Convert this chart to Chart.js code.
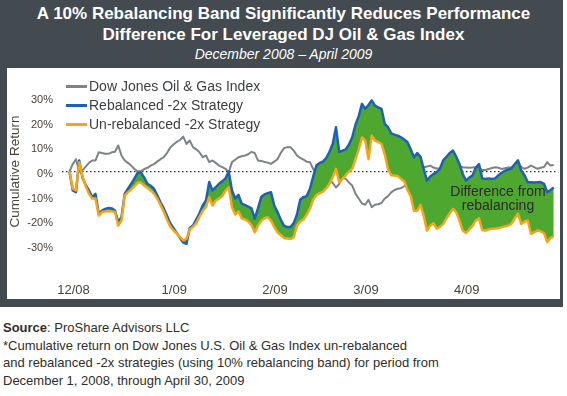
<!DOCTYPE html>
<html>
<head>
<meta charset="utf-8">
<script src="https://cdn.jsdelivr.net/npm/chart.js"></script>
<style>
  html, body { margin: 0; padding: 0; background: #fff; }
  body { width: 567px; height: 396px; position: relative; overflow: hidden; font-family: "Liberation Sans", Arial, sans-serif; }
  #frame { position: absolute; left: 0; top: 0; width: 563px; height: 307px; background: #434a50; }
  #title { position: absolute; left: 0; top: 3px; width: 567px; text-align: center; color: #fff; }
  #title .t1 { font-weight: bold; font-size: 17px; line-height: 21px; }
  #title .t2 { font-style: italic; font-size: 14px; line-height: 19px; }
  #box { position: absolute; left: 7px; top: 68px; width: 553px; height: 231px; background: #fff; }
  #legend { position: absolute; left: 66px; top: 77px; }
  .item { position: absolute; left: 0; height: 19px; white-space: nowrap; font-size: 14px; color: #3c3f42; line-height: 19px; }
  .item i { display: inline-block; width: 21px; height: 3px; vertical-align: middle; margin-right: 2px; position: relative; top: -1px; }
  #note { position: absolute; left: 440px; top: 184px; width: 116px; text-align: center; font-size: 14px; line-height: 14px; color: #2b2b2b; }
  #foot { position: absolute; left: 3px; top: 319px; font-size: 13px; line-height: 17.5px; color: #2e2e2e; }
</style>
</head>
<body>
<div id="frame"></div>
<div id="title">
  <div class="t1">A 10% Rebalancing Band Significantly Reduces Performance</div>
  <div class="t1">Difference For Leveraged DJ Oil &amp; Gas Index</div>
  <div class="t2">December 2008 – April 2009</div>
</div>
<div id="box"><canvas id="chart" width="553" height="231"></canvas></div>
<div id="legend"></div>
<div id="note">Difference from<br>rebalancing</div>
<div id="foot">
  <b>Source</b>: ProShare Advisors LLC<br>
  *Cumulative return on Dow Jones U.S. Oil &amp; Gas Index un-rebalanced<br>
  and rebalanced -2x strategies (using 10% rebalancing band) for period from<br>
  December 1, 2008, through April 30, 2009
</div>
<script>
// cumulative returns (%), one value per calendar day from 1 Dec 2008
const dowJones = [
  0, 3, 5, 0, 0.5, 2, 3.5, 4.5, 4.5, 7.8, 7.5, 7.2, 7.2, 7.8, 8, 10.6, 6.5, 4.5, 3.5, 2.4,
  1, 0, 0.2, 1, 1.5, 2.4, 3, 4, 5, 5.8, 7.5, 9.7, 11, 12, 12.8, 14.2, 11.2, 12.6, 9.9, 9,
  7.8, 5.8, 6.5, 3.8, 4.5, 3.5, 2.4, 1.8, 1.1, -0.3, 3.8, 4.8, 5.8, 6.2, 6.5, 7, 8, 7.5, 4.5, 4.3,
  3.9, 3.6, 3.1, 4, 5, 7.5, 9.5, 9.9, 9.9, 8.5, 6.5, 5.5, 4.8, 4, 3.8, 1, -0.5, -1, -0.8, -2.3,
  -3.5, -4.6, -6.5, -5, -2.5, -3, -4.5, -5.7, -9, -11, -13, -13.5, -11.5, -14.5, -13.5, -13.3, -12.8, -11, -10, -8.5,
  -7.5, -7, -6.8, -6, -5.7, -4, -3, -1.5, 0, 1.7, 2, 2.4, 1.6, 1.2, 1.3, 1.7, 1, 0.4, 1.5, 2.4,
  2.1, 1.7, 1.6, 1.5, 1.6, 1.7, 1.4, 0.6, 0.6, 1, 1.4, 1.7, 1.5, 1, 1.3, 1.6, 1.7, 2.8, 3.8, 1.8,
  1.1, 1.6, 2.4, 1.8, 1.1, 1.5, 1.8, 3.8, 2.4, 2.6
];
const rebalanced = [
  0, -7.7, -8.4, 4.5, -2.5, -5.5, -7.7, -10.4, -9.1, -17.2, -15.9, -15.2, -14.8, -15, -15.9, -20.6, -18.6, -9.1, -7, -5,
  -2.8, -0.5, -0.5, -2.5, -5, -5.8, -7, -9.7, -12.5, -15, -18, -21, -23, -25, -27, -28.9, -29.4, -23, -22, -19.5,
  -17, -13.8, -11.8, -4.3, -7.7, -6.4, -5, -4, -2.8, 0, -7.7, -11, -9.5, -13.1, -13.7, -14.3, -15, -19.2, -15, -10.4,
  -9.3, -8.8, -8.4, -13.8, -16.5, -19.5, -22, -22.6, -22.6, -21, -17.5, -11.5, -10.4, -10, -7, -2, 2.5, 3.5, 4, 5.5,
  8, 11.2, 18, 8, 8.5, 9, 11, 13.9, 19, 22.5, 27.5, 25.5, 27, 28.9, 26.8, 26.1, 25.5, 19.4, 18, 15.5,
  15, 14.6, 13.9, 13, 11.9, 9, 5.8, 7.5, 6, 1, -3.7, -2, -1, -0.3, 1.2, 4.5, 6, 7.5, 8.5, 6,
  3, -1, -3.7, -2.5, -1.6, 1.5, 3, -2.8, -3, -2.8, -3, -2.8, -1.5, -0.5, 0.3, 0.8, 1.2, 3, 4.5, 0.4,
  -1.5, -4.3, -4.4, -4.5, -4.4, -4.3, -5, -8.4, -7.5, -6.5
];
const unrebalanced = [
  0, -7, -7.7, 3.8, -2, -6, -9, -11, -11, -17.9, -16.5, -16.3, -16.1, -16.2, -16.5, -22, -19.9, -9.8, -8.4, -7.3,
  -6, -4.5, -4.5, -5.7, -6.6, -7.7, -9, -11, -13.5, -16.3, -19.5, -22.3, -24, -25.1, -26.7, -28, -27.4, -23.5, -22.5, -21,
  -18.4, -16, -14.4, -10.4, -13.8, -11.8, -11, -10, -7.8, -6.4, -14.5, -17.5, -16.2, -19, -19.5, -20.3, -21.8, -24.7, -22, -20,
  -19, -18.6, -20, -22.5, -24.7, -25.8, -27, -27.2, -27.4, -26.7, -22, -20.3, -19.5, -17.5, -15, -11.5, -9.5, -8.8, -8.2, -6.8,
  -5, -2.3, 1.1, -4.3, -3, -1.5, 0, 1.1, 5, 9, 13.9, 12.6, 5, 14.6, 12.6, 12, 11.2, 7, 1, -1.5,
  -1.6, -1.8, -3, -4, -7.5, -10, -16, -16, -13.5, -18, -24, -22, -21, -23.2, -22.5, -21.3, -19, -17, -15.2, -16.5,
  -20, -24, -25, -23.5, -22, -20, -19, -23.8, -24, -23.5, -23.3, -23.2, -23, -22.6, -22.3, -22, -21.3, -19, -17.2, -21.3,
  -20.3, -19.9, -25.3, -24.7, -24, -24.3, -25, -28.7, -27, -26.5
];
const days = dowJones.map((v, i) => i); // days since 1 Dec 2008

const seriesNames = ['Dow Jones Oil & Gas Index', 'Rebalanced -2x Strategy', 'Un-rebalanced -2x Strategy'];
const seriesColors = ['#7d8386', '#1c62b4', '#f4a51c'];
const monthTicks = [0, 31, 62, 90, 121];
const monthLabels = ['12/08', '1/09', '2/09', '3/09', '4/09'];
const yTicks = [-30, -20, -10, 0, 10, 20, 30];

const green = '#4ea72e';
const axisText = '#4a4238';

Chart.defaults.font.family = '"Liberation Sans", Arial, sans-serif';

// legend sits inside the plot, top left
const legendBox = document.getElementById('legend');
seriesNames.forEach((name, i) => {
  const row = document.createElement('div');
  row.className = 'item';
  row.style.top = (i * 19) + 'px';
  row.innerHTML = '<i style="background:' + seriesColors[i] + '"></i>';
  row.appendChild(document.createTextNode(name));
  legendBox.appendChild(row);
});

const ctx = document.getElementById('chart').getContext('2d');
new Chart(ctx, {
  type: 'line',
  data: {
    labels: days,
    datasets: [{
      label: seriesNames[1],
      data: rebalanced,
      borderColor: seriesColors[1],
      borderWidth: 2.5,
      fill: { target: '+1', above: green, below: green },
      order: 2
    }, {
      label: seriesNames[2],
      data: unrebalanced,
      borderColor: seriesColors[2],
      borderWidth: 2.5,
      fill: false,
      order: 1
    }, {
      label: seriesNames[0],
      data: dowJones,
      borderColor: seriesColors[0],
      borderWidth: 2,
      fill: false,
      order: 3
    }]
  },
  options: {
    responsive: false,
    animation: false,
    layout: { padding: { top: 17.4, right: 4.65, left: 0, bottom: 0 } },
    elements: {
      point: { radius: 0 },
      line: { tension: 0, borderJoinStyle: 'round' }
    },
    plugins: {
      legend: { display: false },
      tooltip: { enabled: false }
    },
    scales: {
      x: {
        type: 'linear',
        min: -2.3,
        max: 149.5,
        afterBuildTicks: s => { s.ticks = monthTicks.map(v => ({ value: v })); },
        afterFit: s => { s.height = 41.4; },
        grid: { display: false },
        border: { display: false },
        ticks: {
          callback: (v, i) => monthLabels[i],
          padding: 17.5,
          labelOffset: 4,
          maxRotation: 0,
          autoSkip: false,
          color: axisText,
          font: { size: 13 }
        }
      },
      y: {
        min: -35,
        max: 35,
        afterBuildTicks: s => { s.ticks = yTicks.map(v => ({ value: v })); },
        afterFit: s => { s.width = 55; },
        grid: {
          color: c => (c.tick && c.tick.value === 0) ? '#2a2a2a' : 'rgba(0,0,0,0)',
          lineWidth: 1.3,
          drawTicks: false
        },
        border: { display: false, dash: [1.5, 2.5] },
        ticks: {
          callback: v => v + '%',
          padding: 9,
          labelOffset: 2.5,
          color: axisText,
          font: { size: 11 }
        },
        title: {
          display: true,
          text: 'Cumulative Return',
          color: axisText,
          font: { size: 13.5 },
          padding: 0
        }
      }
    }
  }
});
</script>
</body>
</html>
